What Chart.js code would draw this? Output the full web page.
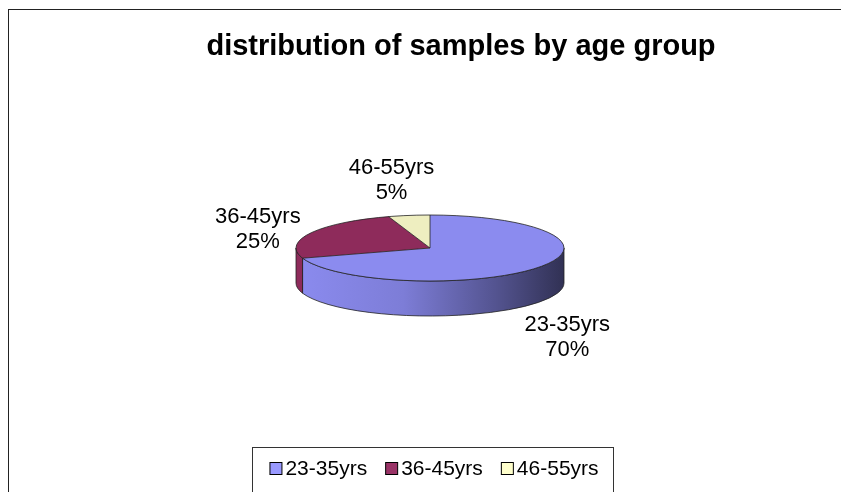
<!DOCTYPE html>
<html>
<head>
<meta charset="utf-8">
<script src="https://cdn.jsdelivr.net/npm/chart.js@4.4.0/dist/chart.umd.min.js"></script>
<style>
  html, body { margin: 0; padding: 0; background: #fff; }
  #myChart { display: block; }
</style>
</head>
<body>
<canvas id="myChart" width="841" height="492"></canvas>
<script>
// ..................les donnees........................
const titre = 'distribution of samples by age group';
const categories = ['23-35yrs', '36-45yrs', '46-55yrs'];
const valeurs = [70, 25, 5];
const couleursDessus = ['#8b8bef', '#8e2b5b', '#eeeec0'];
const couleursLegende = ['#9999ff', '#993366', '#ffffcc'];

// ..................la geometrie 3D....................
const CX = 430, CY = 248, RX = 134, RY = 33, PROF = 35;
const POLICE = '"Liberation Sans", Arial, sans-serif';

function assombrir(hex, f) {
    const n = parseInt(hex.slice(1), 16);
    const r = Math.round(((n >> 16) & 255) * f);
    const g = Math.round(((n >> 8) & 255) * f);
    const b = Math.round((n & 255) * f);
    return 'rgb(' + r + ',' + g + ',' + b + ')';
}

const pie3d = {
    id: 'pie3d',
    beforeDraw(chart) {
        const ctx = chart.ctx;
        ctx.save();
        // cadre
        ctx.strokeStyle = '#222';
        ctx.lineWidth = 1;
        ctx.strokeRect(8.5, 9.5, 900, 600);
        // titre
        ctx.fillStyle = '#000';
        ctx.font = 'bold 29px ' + POLICE;
        ctx.textAlign = 'center';
        ctx.textBaseline = 'middle';
        ctx.fillText(titre, 461, 47);
        // legende
        ctx.font = '21px ' + POLICE;
        const larg = categories.map(c => ctx.measureText(c).width);
        const pas = larg.map(w => 13 + 3 + w + 18);
        const total = pas.reduce((a, b) => a + b, 0) - 18;
        let x = 434 - total / 2;
        ctx.strokeStyle = '#333';
        ctx.strokeRect(252.5, 447.5, 361, 60);
        ctx.textAlign = 'left';
        categories.forEach((c, i) => {
            ctx.fillStyle = couleursLegende[i];
            ctx.fillRect(x + 0.5, 462.5, 12, 12);
            ctx.strokeStyle = '#000';
            ctx.strokeRect(x + 0.5, 462.5, 12, 12);
            ctx.fillStyle = '#000';
            ctx.fillText(c, x + 16, 469);
            x += pas[i];
        });
        ctx.restore();
    },
    beforeDatasetsDraw(chart) {
        const ctx = chart.ctx;
        const arcs = chart.getDatasetMeta(0).data;
        ctx.save();
        // les cotes (face avant)
        arcs.forEach((arc, i) => {
            [0, 2 * Math.PI].forEach(base => {
                const a0 = Math.max(arc.startAngle, base);
                const a1 = Math.min(arc.endAngle, base + Math.PI);
                if (a1 <= a0) return;
                const grad = ctx.createLinearGradient(CX - RX, 0, CX + RX, 0);
                grad.addColorStop(0, assombrir(couleursDessus[i], 1.0));
                grad.addColorStop(0.4, assombrir(couleursDessus[i], 0.9));
                grad.addColorStop(0.75, assombrir(couleursDessus[i], 0.6));
                grad.addColorStop(1, assombrir(couleursDessus[i], 0.35));
                ctx.beginPath();
                ctx.ellipse(CX, CY, RX, RY, 0, a0, a1);
                ctx.ellipse(CX, CY + PROF, RX, RY, 0, a1, a0, true);
                ctx.closePath();
                ctx.fillStyle = grad;
                ctx.fill();
                ctx.strokeStyle = '#222';
                ctx.lineWidth = 0.8;
                ctx.stroke();
            });
        });
        // le dessus, dessine par Chart.js dans un repere aplati
        arcs.forEach(arc => {
            ctx.save();
            ctx.translate(CX, CY);
            ctx.scale(RX / arc.outerRadius, RY / arc.outerRadius);
            ctx.translate(-arc.x, -arc.y);
            arc.draw(ctx);
            ctx.restore();
        });
        // les contours
        ctx.strokeStyle = '#222';
        ctx.lineWidth = 0.8;
        ctx.beginPath();
        ctx.ellipse(CX, CY, RX, RY, 0, 0, 2 * Math.PI);
        ctx.stroke();
        arcs.forEach(arc => {
            ctx.beginPath();
            ctx.moveTo(CX, CY);
            ctx.lineTo(CX + RX * Math.cos(arc.startAngle), CY + RY * Math.sin(arc.startAngle));
            ctx.stroke();
        });
        // etiquettes
        const somme = valeurs.reduce((a, b) => a + b, 0);
        ctx.fillStyle = '#000';
        ctx.font = '22px ' + POLICE;
        ctx.textAlign = 'center';
        ctx.textBaseline = 'middle';
        arcs.forEach((arc, i) => {
            const m = (arc.startAngle + arc.endAngle) / 2;
            const c = Math.cos(m), s = Math.sin(m);
            const lx = CX - 10 + 182 * c;
            const ly = CY + 23 + 92 * s + (s > 0 ? 12 : 0);
            ctx.fillText(categories[i], lx, ly - 12.5);
            ctx.fillText(Math.round(valeurs[i] / somme * 100) + '%', lx, ly + 12.5);
        });
        ctx.restore();
        return false;
    }
};

const ctx = document.getElementById('myChart').getContext('2d');
const chart = new Chart(ctx, {
    type: 'pie',
    data: {
        labels: categories,
        datasets: [{
            data: valeurs,
            backgroundColor: couleursDessus,
            borderWidth: 0
        }]
    },
    options: {
        responsive: false,
        animation: false,
        plugins: {
            legend: { display: false },
            title: { display: false },
            tooltip: { enabled: false }
        }
    },
    plugins: [pie3d]
});
</script>
</body>
</html>
